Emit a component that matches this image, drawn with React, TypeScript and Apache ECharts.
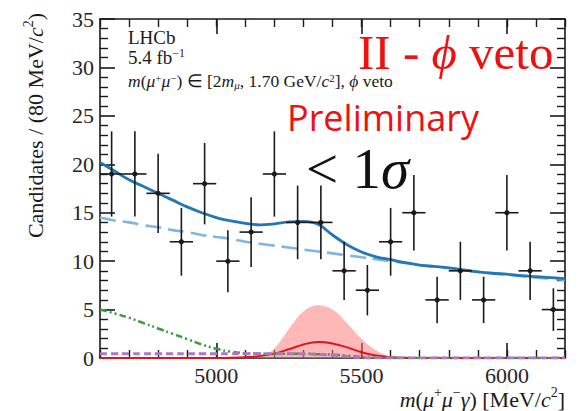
import React, { useEffect, useRef } from "react";
import * as echarts from "echarts";

// Binned data: bin centres (MeV/c^2), candidate counts and their uncertainties
const binCenters = [4640, 4720, 4800, 4880, 4960, 5040, 5120, 5200, 5280, 5360, 5440, 5520, 5600, 5680, 5760, 5840, 5920, 6000, 6080, 6160];
const counts = [19, 19, 17, 12, 18, 10, 13, 19, 14, 14, 9, 7, 12, 15, 6, 9, 6, 15, 9, 5];
const countErrors = [4.4, 4.4, 4.1, 3.5, 4.2, 3.2, 3.6, 4.4, 3.8, 3.8, 3.0, 2.6, 3.5, 3.9, 2.4, 3.0, 2.4, 3.9, 3.0, 2.2];
const binHalfWidth = 40;

// Fit projections sampled along the mass axis
const curveMass = [4600, 4650, 4700, 4750, 4800, 4850, 4900, 4950, 5000, 5050, 5100, 5150, 5200, 5250, 5300, 5350, 5400, 5450, 5500, 5550, 5600, 5650, 5700, 5750, 5800, 5850, 5900, 5950, 6000, 6050, 6100, 6150, 6200];
const totalFit = [20.2, 19.3, 18.4, 17.7, 17.0, 16.3, 15.6, 15.0, 14.5, 14.15, 13.9, 13.75, 13.85, 14.05, 14.1, 13.8, 12.7, 11.7, 10.95, 10.45, 10.15, 9.85, 9.6, 9.45, 9.3, 9.1, 8.9, 8.75, 8.65, 8.5, 8.4, 8.3, 8.2];
const combinatorial = [14.5, 14.2, 14.0, 13.7, 13.5, 13.2, 13.0, 12.7, 12.5, 12.3, 12.0, 11.8, 11.6, 11.4, 11.2, 11.0, 10.8, 10.6, 10.4, 10.2, 10.0, 9.8, 9.6, 9.45, 9.3, 9.1, 8.9, 8.75, 8.6, 8.45, 8.3, 8.2, 8.05];
const partReco = [5.0, 4.6, 4.15, 3.6, 3.05, 2.5, 1.95, 1.4, 0.95, 0.65, 0.5, 0.45, 0.45, 0.45, 0.45, 0.4, 0.35, 0.25, 0.1, 0.03, 0, 0, 0, 0, 0, 0, 0, 0, 0, 0, 0, 0, 0];
const peakingBkg = [0.45, 0.45, 0.45, 0.45, 0.45, 0.45, 0.45, 0.45, 0.45, 0.45, 0.45, 0.45, 0.45, 0.45, 0.42, 0.38, 0.3, 0.15, 0.05, 0, 0, 0, 0, 0, 0, 0, 0, 0, 0, 0, 0, 0, 0];
const signalFit = [0, 0, 0, 0, 0, 0, 0, 0, 0, 0.02, 0.08, 0.2, 0.45, 0.9, 1.4, 1.65, 1.5, 1.1, 0.6, 0.25, 0.08, 0.02, 0, 0, 0, 0, 0, 0, 0, 0, 0, 0, 0];
const signalBand = [0, 0, 0, 0, 0, 0, 0, 0, 0, 0, 0.02, 0.1, 1.0, 3.0, 4.8, 5.45, 5.0, 3.6, 2.0, 0.8, 0.15, 0, 0, 0, 0, 0, 0, 0, 0, 0, 0, 0, 0];

// Axis layout and tick labels
const massRange = [4600, 6200];
const massLabels = [5000, 5500, 6000];
const countRange = [0, 35];
const countLabels = [0, 5, 10, 15, 20, 25, 30, 35];

const SERIF = "Liberation Serif";
const TICK_FONT = `22px "${SERIF}"`;
const INK = "#1a1a1a";
const RED = "#f01010";

const pairs = (ys: number[]) => curveMass.map((m, i) => [m, ys[i]]);

export default function App() {
  const ref = useRef<HTMLDivElement>(null);

  useEffect(() => {
    if (!ref.current) return;
    const chart = echarts.init(ref.current, null, { renderer: "svg" });

    const axisLine = { show: true, lineStyle: { color: INK, width: 1.6 } };
    const minorX = (position: "top" | "bottom") => ({
      type: "value",
      position,
      min: massRange[0],
      max: massRange[1],
      interval: 100,
      axisLine: { ...axisLine, onZero: false },
      axisTick: { show: true, inside: true, length: 8, lineStyle: { color: INK, width: 1.4 } },
      axisLabel: { show: false },
      splitLine: { show: false },
    });
    const majorX = (position: "top" | "bottom") => ({
      type: "value",
      position,
      min: massRange[0],
      max: massRange[1],
      axisLine: { show: false, onZero: false },
      axisTick: { show: true, inside: true, length: 15, customValues: massLabels, lineStyle: { color: INK, width: 1.6 } },
      axisLabel: { show: false },
      splitLine: { show: false },
    });
    const yAx = (position: "left" | "right") => ({
      type: "value",
      position,
      min: countRange[0],
      max: countRange[1],
      interval: 5,
      axisLine: axisLine,
      axisTick: { show: true, inside: true, length: 15, lineStyle: { color: INK, width: 1.6 } },
      minorTick: { show: true, splitNumber: 5, length: 8, lineStyle: { color: INK, width: 1.4 } },
      axisLabel: { show: false },
      splitLine: { show: false },
      minorSplitLine: { show: false },
    });

    const makeRich = (size: number, supSize: number, lh: number) => ({
      t: { fontFamily: SERIF, fontSize: size, lineHeight: lh, fill: INK, verticalAlign: "middle" },
      i: { fontFamily: SERIF, fontSize: size, lineHeight: lh, fontStyle: "italic", fill: INK, verticalAlign: "middle" },
      sup: { fontFamily: SERIF, fontSize: supSize, lineHeight: supSize, fill: INK, verticalAlign: "top" },
      sub: { fontFamily: SERIF, fontSize: supSize, lineHeight: supSize, fontStyle: "italic", fill: INK, verticalAlign: "bottom" },
    });
    const smallRich = makeRich(17.5, 11, 18);
    const titleRich = makeRich(22, 14, 28);

    chart.setOption({
      animation: false,
      backgroundColor: "#ffffff",
      textStyle: { fontFamily: SERIF },
      grid: { left: 100, right: 19, top: 19, bottom: 53, containLabel: false },
      xAxis: [minorX("bottom"), majorX("bottom"), minorX("top"), majorX("top")],
      yAxis: [yAx("left"), yAx("right")],
      series: [
        {
          name: "signal band",
          type: "line",
          data: pairs(signalBand),
          smooth: 0.4,
          showSymbol: false,
          lineStyle: { width: 0 },
          areaStyle: { color: "rgba(255, 120, 120, 0.75)", origin: "start" },
          z: 1,
        },
        {
          name: "signal",
          type: "line",
          data: pairs(signalFit),
          smooth: 0.4,
          showSymbol: false,
          lineStyle: { color: "#e3121b", width: 2 },
          z: 2,
        },
        {
          name: "partially reconstructed",
          type: "line",
          data: pairs(partReco),
          smooth: 0.4,
          showSymbol: false,
          lineStyle: { color: "#3c9c3c", width: 2.5, type: [7, 3, 2, 3, 2, 3] },
          z: 3,
        },
        {
          name: "peaking background",
          type: "line",
          data: pairs(peakingBkg),
          smooth: 0.4,
          showSymbol: false,
          lineStyle: { color: "#b077c6", width: 3, type: [7, 4] },
          z: 3,
        },
        {
          name: "combinatorial",
          type: "line",
          data: pairs(combinatorial),
          smooth: 0.4,
          showSymbol: false,
          lineStyle: { color: "#82b5df", width: 2.6, type: [16, 7] },
          z: 4,
        },
        {
          name: "total",
          type: "line",
          data: pairs(totalFit),
          smooth: 0.4,
          showSymbol: false,
          lineStyle: { color: "#2277b4", width: 2.8 },
          z: 5,
        },
        {
          name: "data",
          type: "custom",
          dimensions: ["x", "y", "lo", "hi"],
          encode: { x: 0, y: 1 },
          data: binCenters.map((m, i) => [m, counts[i], counts[i] - countErrors[i], counts[i] + countErrors[i]]),
          renderItem: (_params: any, api: any) => {
            const x = api.value(0);
            const y = api.value(1);
            const c = api.coord([x, y]);
            const l = api.coord([x - binHalfWidth, y]);
            const r = api.coord([x + binHalfWidth, y]);
            const top = api.coord([x, api.value(3)]);
            const bot = api.coord([x, api.value(2)]);
            const st = { stroke: INK, lineWidth: 1.6 };
            return {
              type: "group",
              children: [
                { type: "line", shape: { x1: l[0], y1: l[1], x2: r[0], y2: r[1] }, style: st },
                { type: "line", shape: { x1: top[0], y1: top[1], x2: bot[0], y2: bot[1] }, style: st },
                { type: "circle", shape: { cx: c[0], cy: c[1], r: 2.6 }, style: { fill: INK } },
              ],
            };
          },
          z: 10,
        },
        {
          // mass tick numbers, placed through the x scale under the frame
          name: "mass ticks",
          type: "custom",
          silent: true,
          clip: false,
          data: massLabels.map((v) => [v, countRange[0]]),
          encode: { x: 0, y: 1 },
          renderItem: (_params: any, api: any) => {
            const p = api.coord([api.value(0), api.value(1)]);
            return {
              type: "text",
              x: p[0],
              y: p[1] + 6,
              style: { text: String(api.value(0)), font: TICK_FONT, fill: "#262626", align: "center", verticalAlign: "top" },
            };
          },
          z: 12,
        },
        {
          // count tick numbers, placed through the y scale left of the frame
          name: "count ticks",
          type: "custom",
          silent: true,
          clip: false,
          data: countLabels.map((v) => [massRange[0], v]),
          encode: { x: 0, y: 1 },
          renderItem: (_params: any, api: any) => {
            const p = api.coord([api.value(0), api.value(1)]);
            return {
              type: "text",
              x: p[0] - 6,
              y: p[1],
              style: { text: String(api.value(1)), font: TICK_FONT, fill: "#262626", align: "right", verticalAlign: "middle" },
            };
          },
          z: 12,
        },
      ],
      graphic: [
        {
          type: "text",
          x: 128,
          y: 37,
          style: { text: "LHCb", font: `19px "${SERIF}"`, fill: INK, verticalAlign: "middle" },
        },
        {
          type: "text",
          x: 128,
          y: 57,
          style: { text: "{t|5.4 fb}{sup|−1}", rich: makeRich(19, 12, 20), verticalAlign: "middle" },
        },
        {
          type: "text",
          x: 128,
          y: 81,
          style: {
            text: "{i|m}{t|(}{i|μ}{sup|+}{i|μ}{sup|−}{t|) ∈ [2}{i|m}{sub|μ}{t|, 1.70 GeV/}{i|c}{sup|2}{t|], }{i|ϕ}{t| veto}",
            rich: smallRich,
            verticalAlign: "middle",
          },
        },
        {
          type: "text",
          x: 358,
          y: 52,
          style: {
            text: "{t|II - }{i|ϕ}{t| veto}",
            rich: {
              t: { fontFamily: SERIF, fontSize: 49, lineHeight: 30, fill: RED },
              i: { fontFamily: SERIF, fontSize: 49, lineHeight: 30, fontStyle: "italic", fill: RED },
            },
            verticalAlign: "middle",
          },
        },
        {
          type: "text",
          x: 287,
          y: 117,
          style: {
            text: "Preliminary",
            font: '36px "Open Sans"',
            fill: RED,
            verticalAlign: "middle",
          },
        },
        {
          type: "text",
          x: 306,
          y: 168,
          style: {
            text: "{t|< 1}{i|σ}",
            rich: {
              t: { fontFamily: SERIF, fontSize: 57, lineHeight: 44, fill: "#111" },
              i: { fontFamily: SERIF, fontSize: 57, lineHeight: 44, fontStyle: "italic", fill: "#111" },
            },
            verticalAlign: "middle",
          },
        },
        {
          type: "text",
          x: 35,
          y: 13,
          rotation: Math.PI / 2,
          style: {
            text: "{t|Candidates / (80 MeV/}{i|c}{sup|2}{t|)}",
            rich: titleRich,
            align: "right",
            verticalAlign: "middle",
          },
        },
        {
          type: "text",
          x: 565,
          y: 399,
          style: {
            text: "{i|m}{t|(}{i|μ}{sup|+}{i|μ}{sup|−}{i|γ}{t|) [MeV/}{i|c}{sup|2}{t|]}",
            rich: titleRich,
            align: "right",
            verticalAlign: "middle",
          },
        },
      ],
    });

    return () => chart.dispose();
  }, []);

  return (
    <div
      ref={ref}
      style={{ position: "fixed", left: 0, top: 0, width: 584, height: 411, background: "#fff" }}
    />
  );
}
